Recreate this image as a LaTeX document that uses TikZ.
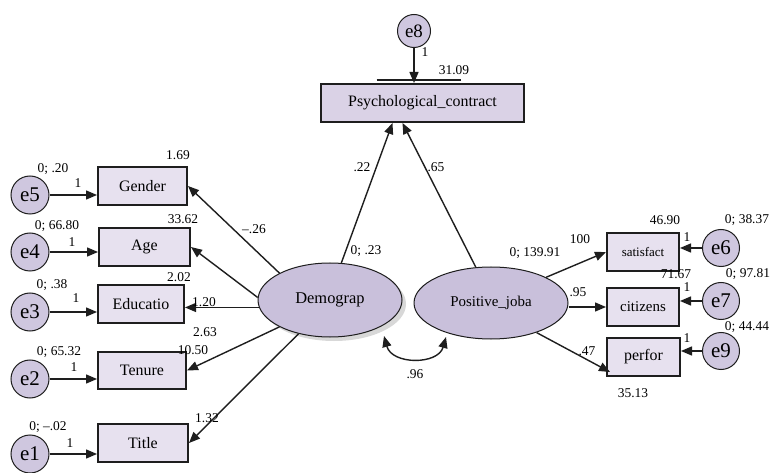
\documentclass[tikz,border=0pt]{standalone}
\usepackage{fontspec}
\setmainfont{Liberation Serif}
\usetikzlibrary{arrows.meta,shapes.geometric,shadows,calc}
\definecolor{boxfill}{HTML}{E7E1EF}
\definecolor{psyfill}{HTML}{DAD2E6}
\definecolor{ellfill}{HTML}{C9C0DB}
\definecolor{cirfill}{HTML}{CFC7DF}
\definecolor{ink}{HTML}{1E1E1E}
\begin{document}
\begin{tikzpicture}[x=1bp,y=-1bp,
  obs/.style={draw=ink,line width=2bp,fill=boxfill,rectangle,minimum height=38bp,inner sep=0pt,font=\fontsize{16}{18}\selectfont},
  lat/.style={draw=ink,line width=1bp,fill=ellfill,ellipse,inner sep=0pt,minimum width=144bp,minimum height=74bp},
  err/.style={draw=ink,line width=1bp,fill=cirfill,circle,inner sep=0pt,minimum size=37bp,font=\fontsize{21}{22}\selectfont},
  lbl/.style={inner sep=0pt,font=\fontsize{13.5}{14}\selectfont},
  arr/.style={draw=ink,line width=1.4bp,-{Triangle[length=11bp,width=9bp]}},
  dbl/.style={draw=ink,line width=1.4bp,{Triangle[length=11bp,width=9bp]}-{Triangle[length=11bp,width=9bp]}}
]
\fill[white] (0,0) rectangle (770,473);
\useasboundingbox (0,0) rectangle (770,473);

% observed variables
\node[obs,minimum width=89bp] (gender) at (142.5,186) {Gender};
\node[obs,minimum width=91bp] (age) at (144.5,247) {Age};
\node[obs,minimum width=86bp] (edu) at (141,304) {Educatio};
\node[obs,minimum width=88bp,minimum height=37bp] (ten) at (142,370.5) {Tenure};
\node[obs,minimum width=90bp] (title) at (143,443) {Title};
\node[obs,minimum width=203bp,fill=psyfill] (psy) at (422.5,103) {Psychological\_contract};
\node[obs,minimum width=72bp,font=\fontsize{13}{14}\selectfont] (sat) at (643,252) {satisfact};
\node[obs,minimum width=72bp,font=\fontsize{15}{16}\selectfont] (cit) at (643,307) {citizens};
\node[obs,minimum width=73bp] (perf) at (643.5,357) {perfor};

% latent variables
\node[lat,drop shadow={opacity=0.3,shadow xshift=4bp,shadow yshift=-4bp},font=\fontsize{16.5}{18}\selectfont] (dem) at (330,300) {Demograp};
\node[lat,minimum width=154bp,minimum height=72bp,font=\fontsize{15}{17}\selectfont] (pos) at (491,303) {Positive\_joba};

% error terms
\node[err,minimum size=38bp] (e5) at (30,195) {e5};
\node[err,minimum size=38bp] (e4) at (30,252) {e4};
\node[err,minimum size=38bp] (e3) at (30,312) {e3};
\node[err,minimum size=38bp] (e2) at (30,379) {e2};
\node[err,minimum size=38bp] (e1) at (30,454) {e1};
\node[err,minimum size=33bp,font=\fontsize{19}{20}\selectfont] (e8) at (414,31) {e8};
\node[err] (e6) at (721,248) {e6};
\node[err] (e7) at (721,301) {e7};
\node[err] (e9) at (721,351) {e9};

% error arrows
\draw[arr] (e5) -- (e5 -| gender.west);
\draw[arr] (e4) -- (e4 -| age.west);
\draw[arr] (e3) -- (e3 -| edu.west);
\draw[arr] (e2) -- (e2 -| ten.west);
\draw[arr] (e1) -- (e1 -| title.west);
\draw[arr] (e6) -- (e6 -| sat.east);
\draw[arr] (e7) -- (e7 -| cit.east);
\draw[arr] (e9) -- (e9 -| perf.east);
\draw[arr] (e8) -- (e8 |- psy.north);
\draw[draw=ink,line width=1.6bp] ($(psy.north)+(-46,-3)$) -- ($(psy.north)+(38,-3)$);

% structural arrows
\draw[arr] (dem.152) -- (gender.east);
\draw[arr] (dem.178) -- (age.east);
\draw[arr] (dem.186) -- (dem.186 -| edu.east);
\draw[arr] (dem.208) -- (ten.east);
\draw[arr] (dem.227) -- (title.east);
\draw[arr] (dem.73) -- ($(psy.south)+(-30,0)$);
\draw[arr] (pos.113) -- ($(psy.south)+(-20,0)$);
\draw[arr] (pos.25) -- (sat.west);
\draw[arr] (pos.east |- cit) -- (cit.west);
\draw[arr] (pos.327) -- ($(perf.south west)+(4,-5)$);

% covariance
\coordinate (cA) at (384,336);
\coordinate (cB) at (446,337);
\draw[dbl] (cA) .. controls (392,365) and (438,365) .. (cB);

% labels
\node[lbl] (l1) at (53,169) {0; .20};
\node[lbl] (l2) at (78,183) {1};
\node[lbl] (l3) at (178,155) {1.69};
\node[lbl] (l4) at (57,226) {0; 66.80};
\node[lbl] (l5) at (72,242) {1};
\node[lbl] (l6) at (183,219) {33.62};
\node[lbl] (l7) at (254,229) {–.26};
\node[lbl] (l8) at (52,285) {0; .38};
\node[lbl] (l9) at (76,298) {1};
\node[lbl] (l10) at (179,277) {2.02};
\node[lbl] (l11) at (204,302) {1.20};
\node[lbl] (l12) at (205,332) {2.63};
\node[lbl] (l13) at (59,352) {0; 65.32};
\node[lbl] (l14) at (193,350) {10.50};
\node[lbl] (l15) at (74,367) {1};
\node[lbl] (l16) at (48,427) {0; –.02};
\node[lbl] (l17) at (207,418) {1.32};
\node[lbl] (l18) at (70,443) {1};
\node[lbl] (l19) at (454,70) {31.09};
\node[lbl] (l20) at (425,52) {1};
\node[lbl] (l21) at (362,167) {.22};
\node[lbl] (l22) at (436,167) {.65};
\node[lbl] (l23) at (366,251) {0; .23};
\node[lbl] (l24) at (665,220) {46.90};
\node[lbl] (l25) at (747,220) {0; 38.37};
\node[lbl] (l26) at (687,237) {1};
\node[lbl] (l27) at (580,239) {100};
\node[lbl] (l28) at (535,253) {0; 139.91};
\node[lbl] (l29) at (676,274) {71.67};
\node[lbl] (l30) at (748,274) {0; 97.81};
\node[lbl] (l31) at (578,292) {.95};
\node[lbl] (l32) at (687,287) {1};
\node[lbl] (l33) at (747,327) {0; 44.44};
\node[lbl] (l34) at (687,338) {1};
\node[lbl] (l35) at (587,351) {.47};
\node[lbl] (l36) at (633,393) {35.13};
\node[lbl] (l37) at (415,374) {.96};
\end{tikzpicture}
\end{document}
